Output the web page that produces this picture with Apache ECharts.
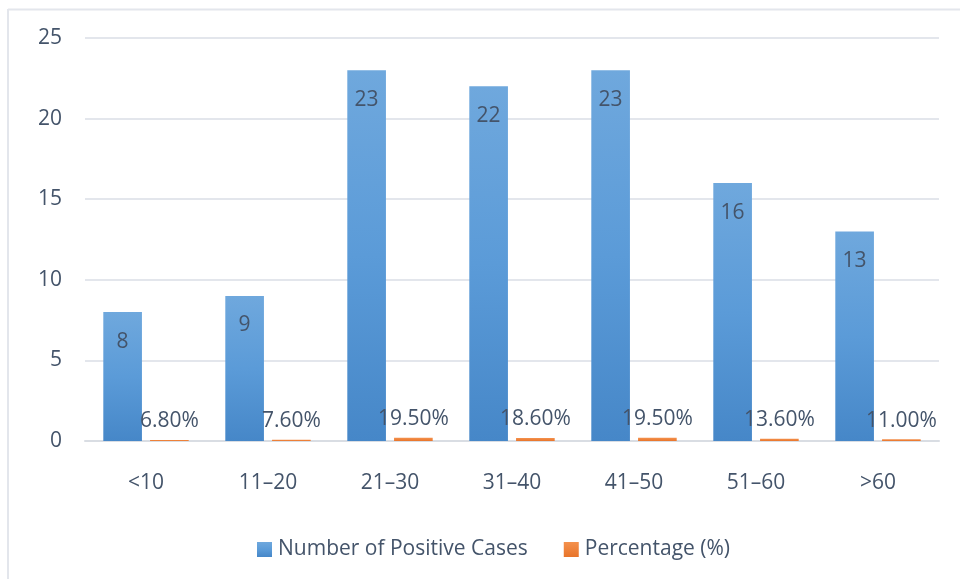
<!DOCTYPE html>
<html>
<head>
<meta charset="utf-8">
<script src="https://cdn.jsdelivr.net/npm/echarts@6/dist/echarts.min.js"></script>
<style>
  html, body { margin: 0; padding: 0; background: #ffffff; }
  #chart { width: 960px; height: 579px; }
</style>
</head>
<body>
<div id="chart"></div>
<script>
// Age groups and counts of positive cases with their share of the total
var ageGroups = ['<10', '11\u201320', '21\u201330', '31\u201340', '41\u201350', '51\u201360', '>60'];
var positiveCases = [8, 9, 23, 22, 23, 16, 13];
var percentages = [6.8, 7.6, 19.5, 18.6, 19.5, 13.6, 11.0];
var yTicks = { min: 0, max: 25, step: 5 };

var TEXT = '#44546A';
var FONT = 'Open Sans';

var chart = echarts.init(document.getElementById('chart'), null, { renderer: 'canvas' });

chart.setOption({
  animation: false,
  backgroundColor: '#ffffff',
  textStyle: { fontFamily: FONT, color: TEXT },
  graphic: [
    { type: 'line', shape: { x1: 8, y1: 9.5, x2: 960, y2: 9.5 }, style: { stroke: '#e3e6ec', lineWidth: 2 } },
    { type: 'line', shape: { x1: 8, y1: 9, x2: 8, y2: 579 }, style: { stroke: '#e3e6ec', lineWidth: 2 } }
  ],
  grid: { left: 85, right: 21, top: 38, bottom: 138, containLabel: false },
  legend: {
    bottom: 14,
    left: 252,
    itemWidth: 15,
    itemHeight: 15,
    itemGap: 36,
    icon: 'rect',
    textStyle: { fontFamily: FONT, fontSize: 21, color: TEXT, padding: [0, 0, 0, 1] },
    data: ['Number of Positive Cases', 'Percentage (%)']
  },
  xAxis: {
    type: 'category',
    data: ageGroups,
    axisTick: { show: false },
    axisLine: { lineStyle: { color: '#d9dde3', width: 2 } },
    axisLabel: { fontFamily: FONT, fontSize: 21, color: TEXT, margin: 32 }
  },
  yAxis: {
    type: 'value',
    min: yTicks.min,
    max: yTicks.max,
    interval: yTicks.step,
    axisLine: { show: false },
    axisTick: { show: false },
    splitLine: { lineStyle: { color: '#e3e6ec', width: 2 } },
    axisLabel: { fontFamily: FONT, fontSize: 21, color: TEXT, margin: 23 }
  },
  series: [
    {
      name: 'Number of Positive Cases',
      type: 'bar',
      data: positiveCases,
      barGap: '21%',
      barCategoryGap: '30%',
      itemStyle: {
        color: new echarts.graphic.LinearGradient(0, 0, 0, 1, [
          { offset: 0, color: '#6fa8dd' },
          { offset: 0.5, color: '#5b9bd8' },
          { offset: 1, color: '#4687c8' }
        ])
      },
      label: {
        show: true,
        position: 'insideTop',
        distance: 19,
        fontFamily: FONT,
        fontSize: 21,
        color: TEXT
      }
    },
    {
      name: 'Percentage (%)',
      type: 'bar',
      data: percentages.map(function (p) { return p / 100; }),
      itemStyle: {
        color: new echarts.graphic.LinearGradient(0, 0, 0, 1, [
          { offset: 0, color: '#f4914d' },
          { offset: 1, color: '#e8742a' }
        ])
      },
      label: {
        show: true,
        position: 'top',
        distance: 8,
        fontFamily: FONT,
        fontSize: 21,
        color: TEXT,
        formatter: function (p) { return percentages[p.dataIndex].toFixed(2) + '%'; }
      }
    }
  ]
});
</script>
</body>
</html>
